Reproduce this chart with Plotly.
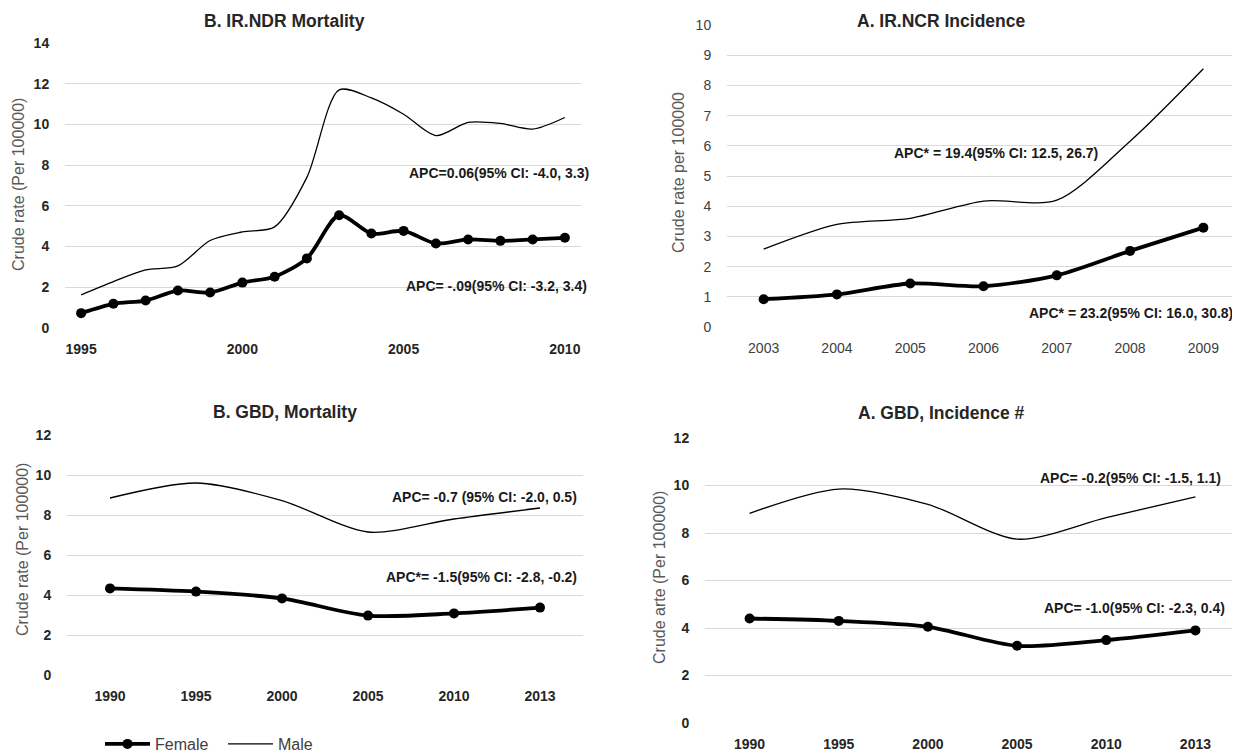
import plotly.graph_objects as go

# ---------------- data ----------------
ndr_years = ["1995", "1996", "1997", "1998", "1999", "2000", "2001", "2002",
             "2003", "2004", "2005", "2006", "2007", "2008", "2009", "2010"]
ndr_tick_labels = ["1995", "", "", "", "", "2000", "", "", "", "", "2005", "", "", "", "", "2010"]
ndr_female = [0.73, 1.19, 1.35, 1.84, 1.74, 2.23, 2.52, 3.42, 5.54, 4.64, 4.77, 4.15, 4.35, 4.28, 4.35, 4.43]
ndr_male = [1.63, 2.28, 2.85, 3.05, 4.3, 4.72, 4.97, 7.4, 11.7, 11.3, 10.5, 9.45, 10.1, 10.05, 9.77, 10.34]

ncr_years = ["2003", "2004", "2005", "2006", "2007", "2008", "2009"]
ncr_female = [0.92, 1.08, 1.44, 1.35, 1.71, 2.52, 3.29]
ncr_male = [2.58, 3.4, 3.6, 4.17, 4.2, 6.15, 8.55]

gbd_years = ["1990", "1995", "2000", "2005", "2010", "2013"]
gbd_mort_female = [4.33, 4.17, 3.83, 2.97, 3.08, 3.37]
gbd_mort_male = [8.85, 9.6, 8.72, 7.15, 7.8, 8.35]
gbd_inc_female = [4.4, 4.3, 4.05, 3.25, 3.49, 3.9]
gbd_inc_male = [8.83, 9.85, 9.21, 7.74, 8.65, 9.52]

titles = ["B. IR.NDR Mortality", "A. IR.NCR Incidence", "B. GBD, Mortality", "A. GBD, Incidence #"]
ytitles = ["Crude rate (Per 100000)", "Crude rate per 100000", "Crude rate (Per 100000)", "Crude arte (Per 100000)"]
apc_texts = [
    ["APC=0.06(95% CI: -4.0, 3.3)", "APC= -.09(95% CI: -3.2, 3.4)"],
    ["APC* = 19.4(95% CI: 12.5, 26.7)", "APC* = 23.2(95% CI: 16.0, 30.8)"],
    ["APC= -0.7 (95% CI: -2.0, 0.5)", "APC*= -1.5(95% CI: -2.8, -0.2)"],
    ["APC= -0.2(95% CI: -1.5, 1.1)", "APC= -1.0(95% CI: -2.3, 0.4)"],
]

# ---------------- layout helpers ----------------
W, H = 1240, 756
OFF = 8  # page body margin
FONT = "Liberation Sans, Arial, sans-serif"


def fx(p):
    return (p - OFF) / W


def fy(p):
    return 1 - (p - OFF) / H


fig = go.Figure()

panels = [
    dict(x=ndr_years, f=ndr_female, m=ndr_male, ticktext=ndr_tick_labels,
         dom_x=(65, 581), dom_y=(328, 43), yr=(0, 14), dt=2, bold=True),
    dict(x=ncr_years, f=ncr_female, m=ncr_male, ticktext=ncr_years,
         dom_x=(727, 1240), dom_y=(327, 25), yr=(0, 10), dt=1, bold=False),
    dict(x=gbd_years, f=gbd_mort_female, m=gbd_mort_male, ticktext=gbd_years,
         dom_x=(67, 583), dom_y=(675, 435), yr=(0, 12), dt=2, bold=True),
    dict(x=gbd_years, f=gbd_inc_female, m=gbd_inc_male, ticktext=gbd_years,
         dom_x=(705, 1240), dom_y=(723, 438), yr=(0, 12), dt=2, bold=True),
]

for i, p in enumerate(panels):
    n = i + 1
    xa = "x" if n == 1 else f"x{n}"
    ya = "y" if n == 1 else f"y{n}"
    show = (n == 3)
    fig.add_trace(go.Scatter(
        x=p["x"], y=p["f"], xaxis=xa, yaxis=ya, name="Female",
        mode="lines+markers", line=dict(color="black", width=3.8, shape="spline", smoothing=0.8),
        marker=dict(color="black", size=10), showlegend=show, legendrank=1))
    fig.add_trace(go.Scatter(
        x=p["x"], y=p["m"], xaxis=xa, yaxis=ya, name="Male",
        mode="lines", line=dict(color="black", width=1.3, shape="spline", smoothing=0.8),
        showlegend=show, legendrank=2))

    tick_font = dict(family=FONT, size=14, color="#262626" if p["bold"] else "#404040",
                     weight="bold" if p["bold"] else "normal")
    nx = len(p["x"])
    xkey = "xaxis" if n == 1 else f"xaxis{n}"
    ykey = "yaxis" if n == 1 else f"yaxis{n}"
    fig.update_layout(**{
        xkey: dict(domain=[fx(p["dom_x"][0]), fx(p["dom_x"][1])], anchor=ya,
                   type="category", range=[-0.5, nx - 0.5],
                   tickmode="array", tickvals=p["x"], ticktext=p["ticktext"],
                   showgrid=False, zeroline=False, showline=False,
                   ticks="outside", ticklen=8, tickcolor="rgba(0,0,0,0)",
                   tickfont=tick_font, fixedrange=True),
        ykey: dict(domain=[fy(p["dom_y"][0]), fy(p["dom_y"][1])], anchor=xa,
                   range=list(p["yr"]), dtick=p["dt"], tick0=0,
                   showgrid=True, gridcolor="#d9d9d9", gridwidth=1,
                   zeroline=False, showline=False,
                   ticks="outside", ticklen=12, tickcolor="rgba(0,0,0,0)",
                   tickfont=tick_font, fixedrange=True),
    })

annotations = []
# panel titles
title_pos = [(284, 21), (941, 21), (285, 412), (941, 413)]
for t, (x, y) in zip(titles, title_pos):
    annotations.append(dict(text=t, x=fx(x), y=fy(y), xref="paper", yref="paper",
                            xanchor="center", yanchor="middle", showarrow=False,
                            font=dict(family=FONT, size=17.5, color="#262626", weight="bold")))
# y-axis titles
ytitle_pos = [(18, 185), (678, 173), (22, 550), (659, 578)]
for t, (x, y) in zip(ytitles, ytitle_pos):
    annotations.append(dict(text=t, x=fx(x), y=fy(y), xref="paper", yref="paper",
                            xanchor="center", yanchor="middle", showarrow=False, textangle=-90,
                            font=dict(family=FONT, size=16, color="#595959")))
# APC labels (right edge, vertical centre)
apc_pos = [[(591, 173), (589, 286)], [(1100, 153), (1235, 313)],
           [(579, 497), (579, 577)], [(1223, 478), (1227, 608)]]
for texts, poss in zip(apc_texts, apc_pos):
    for t, (x, y) in zip(texts, poss):
        annotations.append(dict(text=t, x=fx(x), y=fy(y), xref="paper", yref="paper",
                                xanchor="right", yanchor="middle", showarrow=False,
                                font=dict(family=FONT, size=14, color="#1a1a1a", weight="bold")))

fig.update_layout(
    width=W, height=H, margin=dict(l=0, r=0, t=0, b=0, autoexpand=False),
    paper_bgcolor="white", plot_bgcolor="white",
    annotations=annotations,
    legend=dict(orientation="h", x=fx(100), y=fy(744), xanchor="left", yanchor="middle",
                font=dict(family=FONT, size=16, color="#404040"),
                bgcolor="rgba(0,0,0,0)", itemwidth=45, tracegroupgap=0,
                entrywidth=63, entrywidthmode="pixels"),
    showlegend=True,
)

fig.write_html("out.html")
